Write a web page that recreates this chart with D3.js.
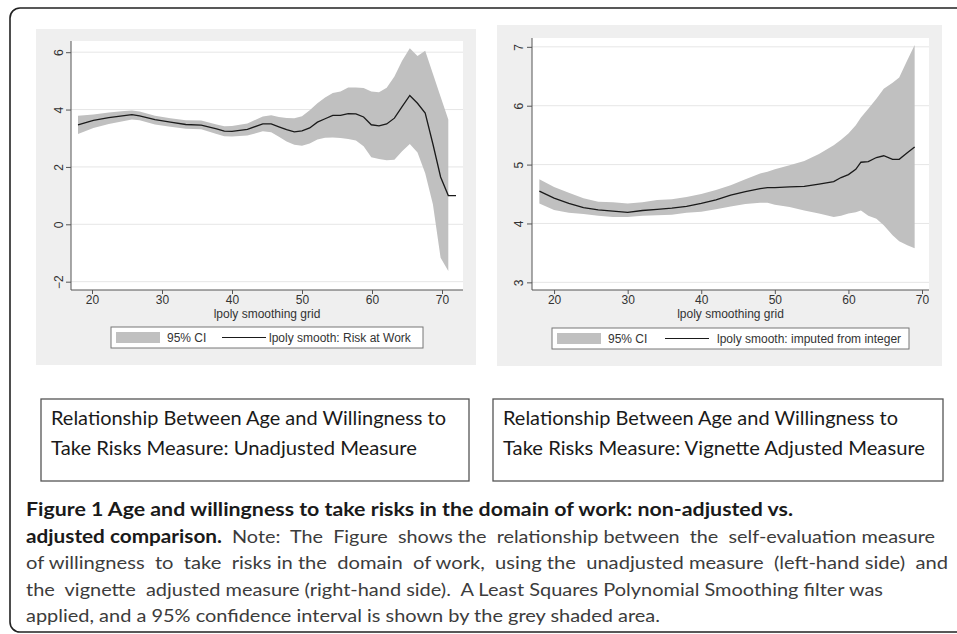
<!DOCTYPE html>
<html><head><meta charset="utf-8">
<script src="https://cdn.jsdelivr.net/npm/d3@7"></script>
<style>html,body{margin:0;padding:0;background:#fff;}svg{display:block;}</style>
</head><body>
<script>
// ---------- DATA ----------
// Left panel: lpoly smooth of Risk at Work
const ageL  = [18.0,20.2,22.4,24.6,25.7,26.8,29.0,31.2,33.4,35.6,37.8,38.9,40.0,42.2,44.4,45.6,46.7,47.8,48.9,50.0,51.1,52.2,53.3,54.4,55.5,56.6,57.7,58.8,59.9,61.0,62.1,63.2,64.3,65.4,66.5,67.6,68.7,69.8,70.9,72.0];
const meanL = [3.47,3.62,3.72,3.79,3.82,3.78,3.65,3.56,3.48,3.46,3.33,3.25,3.24,3.31,3.50,3.50,3.40,3.30,3.22,3.26,3.36,3.56,3.68,3.80,3.80,3.86,3.85,3.74,3.47,3.43,3.50,3.70,4.10,4.49,4.22,3.88,2.80,1.65,1.00,1.00];
const hiL   = [3.78,3.83,3.90,3.95,3.97,3.93,3.78,3.70,3.63,3.62,3.48,3.42,3.43,3.51,3.76,3.80,3.74,3.71,3.70,3.77,3.98,4.22,4.42,4.58,4.63,4.77,4.77,4.75,4.63,4.60,4.76,5.15,5.70,6.14,5.87,6.05,5.25,4.45,3.65,null];
const loL   = [3.15,3.36,3.50,3.60,3.65,3.63,3.48,3.40,3.33,3.31,3.15,3.07,3.06,3.10,3.24,3.21,3.05,2.89,2.77,2.74,2.82,2.96,3.02,3.03,3.01,2.97,2.92,2.72,2.34,2.28,2.23,2.25,2.55,2.80,2.50,1.78,0.70,-1.17,-1.63,null];

// Right panel: lpoly smooth imputed from integer (vignette adjusted)
const ageR  = [18,20,22,24,26,28,30,32,34,36,38,40,42,44,46,48,49,50,52,54,56,58,59,60,61,61.7,62.7,63.8,64.8,66,66.9,68,69];
const meanR = [4.55,4.43,4.34,4.27,4.23,4.21,4.19,4.22,4.24,4.26,4.29,4.34,4.40,4.48,4.54,4.59,4.61,4.61,4.62,4.63,4.67,4.71,4.78,4.83,4.92,5.04,5.05,5.12,5.15,5.09,5.09,5.20,5.30];
const hiR   = [4.75,4.62,4.52,4.43,4.37,4.36,4.34,4.36,4.40,4.41,4.45,4.50,4.57,4.65,4.75,4.85,4.88,4.92,4.99,5.06,5.18,5.33,5.42,5.53,5.67,5.80,5.95,6.12,6.29,6.39,6.48,6.77,7.03];
const loR   = [4.34,4.23,4.18,4.16,4.13,4.11,4.11,4.13,4.14,4.15,4.18,4.20,4.24,4.29,4.33,4.35,4.35,4.32,4.28,4.22,4.17,4.11,4.13,4.17,4.19,4.22,4.13,4.08,3.97,3.80,3.70,3.63,3.58];

const xTicks  = [20,30,40,50,60,70];
const yTicksL = [-2,0,2,4,6];
const yTicksR = [3,4,5,6,7];
const xTitle  = "lpoly smoothing grid";
const ciLabel = "95% CI";
const lineLabelL = "lpoly smooth: Risk at Work";
const lineLabelR = "lpoly smooth: imputed from integer";
const boxTextL = ["Relationship Between Age and Willingness to", "Take Risks Measure: Unadjusted Measure"];
const boxTextR = ["Relationship Between Age and Willingness to", "Take Risks Measure: Vignette Adjusted Measure"];
const captionBold1 = "Figure 1 Age and willingness to take risks in the domain of work: non-adjusted vs.";
const captionBold2 = "adjusted comparison.";
const captionNote = [
  "Note:  The  Figure  shows the  relationship between  the  self-evaluation measure",
  "of willingness  to  take  risks in the  domain  of work,  using the  unadjusted measure  (left-hand side)  and",
  "the  vignette  adjusted measure (right-hand side).  A Least Squares Polynomial Smoothing filter was",
  "applied, and a 95% confidence interval is shown by the grey shaded area."
];

// ---------- DRAW ----------
const W = 957, H = 634;
const svg = d3.select("body").append("svg").attr("width", W).attr("height", H);
const CI_FILL = "#c0c0c0";
const AXIS = "#555";
const FONT = "'Liberation Sans', Arial, sans-serif";

// outer frame
svg.append("rect").attr("x", 10).attr("y", 8).attr("width", 990).attr("height", 624)
  .attr("rx", 10).attr("ry", 10).attr("fill", "none").attr("stroke", "#222").attr("stroke-width", 1.6);

function panel(cfg) {
  const g = svg.append("g");
  g.append("rect").attr("x", cfg.panel[0]).attr("y", cfg.panel[1])
    .attr("width", cfg.panel[2]).attr("height", cfg.panel[3]).attr("fill", "#efefef");
  const [px0, px1, py0, py1] = cfg.plot;
  g.append("rect").attr("x", px0).attr("y", py0).attr("width", px1 - px0).attr("height", py1 - py0).attr("fill", "#fff");
  const x = d3.scaleLinear().domain(cfg.xd).range([px0, px1]);
  const y = d3.scaleLinear().domain(cfg.yd).range([py1, py0]);

  // gridlines
  g.append("g").selectAll("line").data(cfg.yTicks).join("line")
    .attr("x1", px0).attr("x2", px1).attr("y1", d => y(d)).attr("y2", d => y(d))
    .attr("stroke", "#e6e6e6").attr("stroke-width", 1);

  const data = cfg.age.map((a, i) => ({a, m: cfg.mean[i], hi: cfg.hi[i], lo: cfg.lo[i]}));
  const area = d3.area().defined(d => d.hi != null && d.lo != null)
    .x(d => x(d.a)).y0(d => y(d.lo)).y1(d => y(d.hi));
  g.append("path").attr("d", area(data)).attr("fill", CI_FILL);
  const line = d3.line().x(d => x(d.a)).y(d => y(d.m));
  g.append("path").attr("d", line(data)).attr("fill", "none").attr("stroke", "#1a1a1a").attr("stroke-width", 1.3);

  // axes
  const xa = d3.axisBottom(x).tickValues(xTicks).tickSize(4).tickPadding(1).tickFormat(d3.format("d"));
  const xg = g.append("g").attr("transform", `translate(0,${py1})`).call(xa);
  xg.select(".domain").attr("d", `M${px0},0H${px1}`).attr("stroke", AXIS);
  xg.selectAll(".tick line").attr("stroke", AXIS);
  xg.selectAll(".tick text").attr("font-family", FONT).attr("font-size", 12).attr("fill", "#333");

  const ya = d3.axisLeft(y).tickValues(cfg.yTicks).tickSize(5).tickFormat(d3.format("d"));
  const yg = g.append("g").attr("transform", `translate(${px0},0)`).call(ya);
  yg.select(".domain").attr("d", `M0,${py0}V${py1}`).attr("stroke", AXIS);
  yg.selectAll(".tick line").attr("stroke", AXIS);
  yg.selectAll(".tick text").attr("font-family", FONT).attr("font-size", 12).attr("fill", "#333")
    .attr("x", null).attr("dy", null).attr("text-anchor", "middle")
    .attr("transform", `translate(${cfg.yLabX - px0},0) rotate(-90)`);

  g.append("text").attr("x", (px0 + px1) / 2).attr("y", py1 + 27.5).attr("text-anchor", "middle")
    .attr("font-family", FONT).attr("font-size", 12).attr("fill", "#333").text(xTitle);

  // legend
  const L = cfg.legend;
  g.append("rect").attr("x", L.x).attr("y", L.y).attr("width", L.w).attr("height", L.h)
    .attr("fill", "#fff").attr("stroke", "#777").attr("stroke-width", 1);
  g.append("rect").attr("x", L.sw[0]).attr("y", L.y + 5).attr("width", L.sw[1] - L.sw[0]).attr("height", L.h - 10).attr("fill", CI_FILL);
  g.append("text").attr("x", L.t1).attr("y", L.y + L.h / 2 + 4.3).attr("font-family", FONT).attr("font-size", 12).attr("fill", "#333").text(ciLabel);
  g.append("line").attr("x1", L.ln[0]).attr("x2", L.ln[1]).attr("y1", L.y + L.h / 2).attr("y2", L.y + L.h / 2)
    .attr("stroke", "#1a1a1a").attr("stroke-width", 1.2);
  g.append("text").attr("x", L.t2).attr("y", L.y + L.h / 2 + 4.3).attr("font-family", FONT).attr("font-size", 12).attr("fill", "#333").text(cfg.lineLabel);
}

panel({panel: [36, 29, 440, 336], plot: [71, 463, 41, 290], xd: [17, 73], yd: [-2.29, 6.39],
  yTicks: yTicksL, yLabX: 62.5, age: ageL, mean: meanL, hi: hiL, lo: loL, lineLabel: lineLabelL,
  legend: {x: 111, y: 327, w: 312, h: 21, sw: [116, 160], t1: 167, ln: [222, 266], t2: 269}});
panel({panel: [497, 25, 445, 341], plot: [532, 929, 38, 290], xd: [17.0, 70.95], yd: [2.87, 7.15],
  yTicks: yTicksR, yLabX: 522.5, age: ageR, mean: meanR, hi: hiR, lo: loR, lineLabel: lineLabelR,
  legend: {x: 552, y: 328, w: 357, h: 21, sw: [557, 601], t1: 608, ln: [665, 709], t2: 717}});

// text boxes
const TFONT = "Lato, 'Open Sans', sans-serif";
function fitText(sel, len) {
  sel.attr("textLength", len).attr("lengthAdjust", "spacingAndGlyphs");
}
function box(x0, x1, lines, tx, widths) {
  svg.append("rect").attr("x", x0).attr("y", 399).attr("width", x1 - x0).attr("height", 82)
    .attr("fill", "#fff").attr("stroke", "#555").attr("stroke-width", 1.3);
  lines.forEach((t, i) => {
    const el = svg.append("text").attr("x", tx).attr("y", 425 + i * 30).attr("font-family", TFONT)
      .attr("font-size", 19).attr("fill", "#1a1a1a").text(t);
    fitText(el, widths[i]);
  });
}
box(41, 469, boxTextL, 51, [395, 366]);
box(493, 943, boxTextR, 503, [395, 422]);

// caption
const CFONT = "Lato, 'Open Sans', sans-serif";
const cap1 = svg.append("text").attr("x", 26).attr("y", 516).attr("font-family", CFONT).attr("font-size", 18)
  .attr("font-weight", "bold").attr("fill", "#1a1a1a").text(captionBold1);
fitText(cap1, 767);
const cap2 = svg.append("text").attr("x", 26).attr("y", 542.5).attr("font-family", CFONT).attr("font-size", 18)
  .attr("font-weight", "bold").attr("fill", "#1a1a1a").text(captionBold2);
fitText(cap2, 196);
const noteX = [232, 26, 26, 26];
const noteEnd = [935, 948, 883, 660];
captionNote.forEach((t, i) => {
  const el = svg.append("text").attr("x", noteX[i]).attr("y", 542.5 + i * 26.5).attr("font-family", CFONT)
    .attr("font-size", 18).attr("fill", "#3c3c3c").style("white-space", "pre").text(t);
  fitText(el, noteEnd[i] - noteX[i]);
});
</script>
</body></html>
